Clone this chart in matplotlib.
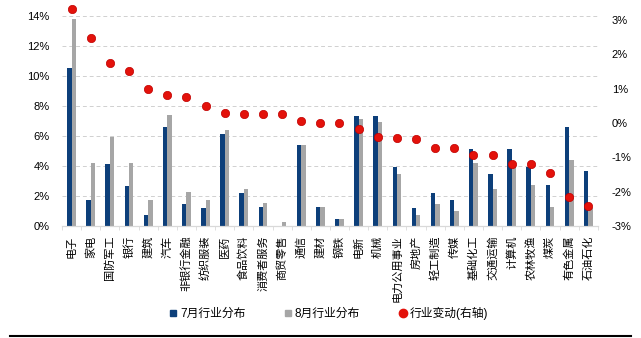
import numpy as np
import matplotlib
matplotlib.use("Agg")
import matplotlib.pyplot as plt
from matplotlib.lines import Line2D
from matplotlib.ticker import PercentFormatter, MultipleLocator

plt.rcParams['font.family'] = ['Liberation Sans', 'Noto Sans CJK SC', 'DejaVu Sans']
plt.rcParams['axes.unicode_minus'] = False

# --- data (percent) ---
industries = ["电子", "家电", "国防军工", "银行", "建筑", "汽车", "非银行金融", "纺织服装",
              "医药", "食品饮料", "消费者服务", "商贸零售", "通信", "建材", "钢铁", "电新",
              "机械", "电力公用事业", "房地产", "轻工制造", "传媒", "基础化工", "交通运输",
              "计算机", "农林牧渔", "煤炭", "有色金属", "石油石化"]
july = [10.51, 1.71, 4.15, 2.69, 0.73, 6.60, 1.47, 1.22, 6.11, 2.22, 1.24, 0.0, 5.37, 1.24,
        0.49, 7.33, 7.33, 3.91, 1.22, 2.22, 1.73, 5.13, 3.44, 5.13, 3.91, 2.71, 6.60, 3.67]
aug = [13.80, 4.20, 5.93, 4.20, 1.73, 7.40, 2.24, 1.73, 6.40, 2.47, 1.51, 0.27, 5.40, 1.24,
       0.49, 7.16, 6.91, 3.47, 0.73, 1.49, 1.00, 4.20, 2.47, 3.96, 2.71, 1.24, 4.42, 1.22]
change = [3.31, 2.48, 1.76, 1.50, 0.99, 0.81, 0.76, 0.50, 0.30, 0.26, 0.26, 0.25, 0.05, 0.01,
          0.01, -0.17, -0.41, -0.45, -0.47, -0.72, -0.72, -0.94, -0.94, -1.19, -1.19, -1.45,
          -2.15, -2.43]
legend_labels = ["7月行业分布", "8月行业分布", "行业变动(右轴)"]

NAVY = '#0D3F7A'
GREY = '#A6A6A6'
RED = '#E3120B'

fig = plt.figure(figsize=(6.41, 3.38), dpi=100)
ax = fig.add_axes([0.0967, 0.3314, 0.836, 0.6213])
ax2 = ax.twinx()

x = np.arange(len(industries))
w = 0.23
ax.bar(x - w / 2, july, width=w, color=NAVY, zorder=2)
ax.bar(x + w / 2, aug, width=w, color=GREY, zorder=2)
ax2.scatter(x, change, s=36, color=RED, edgecolor='#C00000', linewidth=0.5,
            zorder=3, clip_on=False)

ax.set_xlim(-0.5, len(industries) - 0.5)
ax.set_ylim(0, 14)
ax.yaxis.set_major_locator(MultipleLocator(2))
ax.yaxis.set_major_formatter(PercentFormatter(decimals=0))
ax2.set_ylim(-3, 3.1165)
ax2.yaxis.set_major_locator(MultipleLocator(1))
ax2.yaxis.set_major_formatter(PercentFormatter(decimals=0))

ax.grid(axis='y', color='#D0D0D0', linestyle=(0, (4, 3)), linewidth=0.7, zorder=0)
ax.set_axisbelow(True)

for a in (ax, ax2):
    for s in ('top', 'left', 'right'):
        a.spines[s].set_visible(False)
    a.spines['bottom'].set_color('#D9D9D9')
ax.tick_params(axis='y', length=0, pad=9, labelsize=8)
ax2.tick_params(axis='y', length=0, pad=10, labelsize=8)

# category labels, ticks at boundaries
ax.set_xticks(x)
ax.set_xticklabels(industries, rotation=90, fontsize=8, va='top')
ax.tick_params(axis='x', which='major', length=0, pad=7)
ax.set_xticks(np.arange(-0.5, len(industries) + 0.5, 1), minor=True)
ax.tick_params(axis='x', which='minor', length=3, color='#D9D9D9', direction='out')

handles = [
    Line2D([], [], marker='s', linestyle='none', color=NAVY, markersize=5),
    Line2D([], [], marker='s', linestyle='none', color=GREY, markersize=5),
    Line2D([], [], marker='o', linestyle='none', color=RED, markersize=6),
]
fig.legend(handles, legend_labels, loc='center', bbox_to_anchor=(0.513, 0.072), ncol=3,
           frameon=False, fontsize=8.5, handlelength=0.6, handletextpad=0.3,
           columnspacing=3.3)

fig.add_artist(Line2D([0.015, 0.985], [0.005, 0.005], color='black', linewidth=1.5))

fig.savefig('out.png', dpi=100)
